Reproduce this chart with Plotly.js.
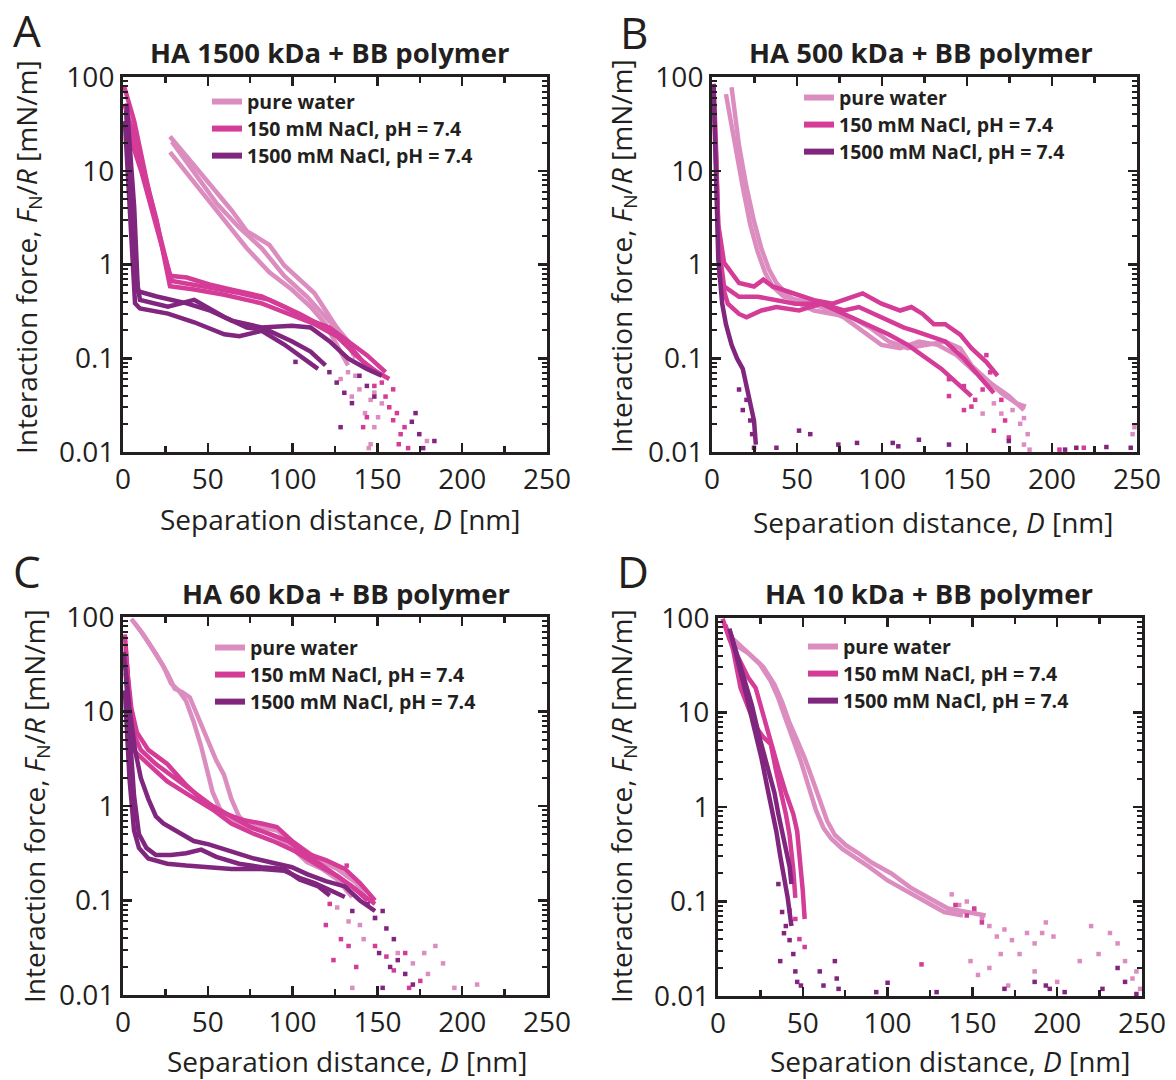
<!DOCTYPE html>
<html>
<head>
<meta charset="utf-8">
<script src="https://cdn.plot.ly/plotly-3.0.1.min.js"></script>
<style>html,body{margin:0;padding:0;background:#fff}#chart{width:1176px;height:1080px}</style>
</head>
<body>
<div id="chart"></div>
<script>
// ---------------- DATA (D in nm, F/R in mN/m) ----------------
const panelTitles = ["HA 1500 kDa + BB polymer", "HA 500 kDa + BB polymer", "HA 60 kDa + BB polymer", "HA 10 kDa + BB polymer"];
const panelLetters = ["A", "B", "C", "D"];
const seriesNames = ["pure water", "150 mM NaCl, pH = 7.4", "1500 mM NaCl, pH = 7.4"];
const xTickVals = [0, 50, 100, 150, 200, 250];
const yTickVals = [0.01, 0.1, 1, 10, 100];
const yTickText = ["0.01", "0.1", "1", "10", "100"];

// Panel A: HA 1500 kDa
const A_water_D = [
  [27.7,37.6,50.9,64.1,73,79.6,86.3,95.1,104,112.8,119.4,126,132.7,137.1],
  [28.8,42,55.3,68.6,81.8,95.1,108.4,119.4,130.5,136],
  [27.7,42,55.3,73,86.3,99.5,110.6,119.4,126,132.7]
];
const A_water_F = [
  [23.2,14.0,7.4,3.77,2.27,1.92,1.62,0.975,0.695,0.496,0.325,0.213,0.152,0.0996],
  [20.4,9.55,4.47,2.47,1.49,0.757,0.456,0.275,0.165,0.108],
  [15.8,7.4,3.77,1.49,0.824,0.54,0.354,0.232,0.14,0.084]
];
const A_water_tail_D = [128.3,132.7,134.9,139.4,142.7,146,148.2,146,150.4,152.6,179.2,144.9,137,148.2];
const A_water_tail_F = [0.06,0.071,0.039,0.0466,0.026,0.036,0.0184,0.0121,0.0235,0.033,0.0131,0.011,0.065,0.043];
const A_s150_D = [
  [0.7,6.6,15.5,27.7,37.6,50.9,64.1,81.8,95.1,110.6,121.7,132.7,143.8,154.8],
  [0.7,8.8,19.9,27.7,42,59.7,81.8,99.5,112.8,126,139.4,148.2,157],
  [1.1,11,22.1,28.8,46.5,68.6,86.3,104,117.2,130.5,141.6,152.6]
];
const A_s150_F = [
  [78.9,33.9,5.75,0.757,0.725,0.612,0.54,0.456,0.354,0.252,0.213,0.152,0.108,0.071],
  [51.8,17.3,2.93,0.587,0.54,0.475,0.385,0.286,0.232,0.172,0.0996,0.074,0.06],
  [33.9,9.55,1.76,0.667,0.587,0.496,0.419,0.299,0.222,0.158,0.0915,0.065]
];
const A_s150_tail_D = [148.2,154.8,157,159.3,161.5,163.7,166,162.6,143.8,141.6,168.1,159.3,152.6];
const A_s150_tail_F = [0.0507,0.039,0.030,0.0218,0.026,0.0155,0.0184,0.0121,0.0235,0.0184,0.011,0.0466,0.055];
const A_s1500_D = [
  [2.2,6.6,8.8,19.9,37.6,50.9,64.1,81.8,99.5,110.6,121.7,132.7,143.8,152.6],
  [1.8,7.7,10,26.5,42,59.7,73,86.3,99.5,110.6,119.4],
  [1.1,7.1,10,26.5,42,59.7,68.6,81.8,95.1,104,115]
];
const A_s1500_F = [
  [51.8,4.1,0.518,0.456,0.385,0.325,0.252,0.213,0.222,0.213,0.152,0.0996,0.077,0.065],
  [43.7,0.757,0.419,0.354,0.419,0.275,0.213,0.196,0.152,0.118,0.084],
  [33.9,0.385,0.339,0.299,0.242,0.18,0.172,0.196,0.14,0.108,0.077]
];
const A_s1500_tail_D = [121.7,126,130.5,135,139.4,143.8,128.3,148.2,172.5,174.7,177,183.6,170.3,101.7];
const A_s1500_tail_F = [0.071,0.055,0.0428,0.0332,0.065,0.0507,0.0184,0.039,0.026,0.0155,0.011,0.0131,0.021,0.0915];

// Panel B: HA 500 kDa
const B_water_D = [
  [11.5,15.9,20.3,24.7,29.1,33.5,37.9,44.5,51.2,60,71,82,93,104,115.1,126.1,137.2,146,152.6,161.4,170.2,179,184.6],
  [8.2,13.7,18.1,22.5,26.9,31.3,35.7,42.3,51.2,64.4,77.6,88.6,99.7,110.7,121.7,132.7,143.8,154.8,165.8,174.6,183.5]
];
const B_water_F = [
  [77.6,18.5,6.7,2.9,1.47,0.89,0.634,0.472,0.382,0.323,0.297,0.273,0.212,0.151,0.128,0.139,0.151,0.128,0.084,0.0598,0.0427,0.0331,0.0305],
  [65.6,17,6.7,2.66,1.36,0.817,0.583,0.453,0.416,0.352,0.273,0.195,0.139,0.128,0.151,0.139,0.108,0.0708,0.0505,0.0395,0.028]
];
const B_water_tail_D = [170.2,176.8,181.3,183.5,185.7,183.5,159.2,165.8,248.5,247.4,186.8];
const B_water_tail_F = [0.0257,0.028,0.02,0.023,0.0155,0.012,0.0257,0.033,0.0184,0.0155,0.0106];
const B_s150_D = [
  [0.9,2.6,3.7,7.1,15.9,24.7,30.2,35.7,49,60,71,82,88.6,99.7,110.7,117.3,123.9,130.5,137.2,146,152.6,161.4,168],
  [1.5,3.7,7.1,15.9,26.9,37.9,49,64.4,77.6,86.4,95.3,104,112.9,119.5,126.1,137.2,148.2,157,165.8],
  [2.2,4.4,9.3,15.9,20.3,29.1,37.9,51.2,64.4,77.6,90.9,104,115.1,126.1,135,143.8,152.6]
];
const B_s150_F = [
  [84.5,9.43,2.66,1.05,0.634,0.583,0.69,0.583,0.492,0.416,0.382,0.453,0.492,0.382,0.323,0.352,0.297,0.231,0.231,0.179,0.128,0.091,0.065],
  [50.9,1.75,0.583,0.453,0.453,0.416,0.382,0.382,0.323,0.352,0.297,0.251,0.212,0.195,0.179,0.151,0.099,0.065,0.0427],
  [21.9,0.75,0.382,0.297,0.273,0.323,0.352,0.323,0.382,0.297,0.231,0.179,0.139,0.099,0.077,0.055,0.0395]
];
const B_s150_tail_D = [139.4,148.2,152.6,161.4,163.6,159.2,165.8,170.2,172.4,154.8,148.2,139.4,174.6,204.4,218.7];
const B_s150_tail_F = [0.0598,0.0505,0.0305,0.108,0.0708,0.0464,0.0169,0.036,0.0217,0.036,0.028,0.0395,0.0143,0.0106,0.0111];
const B_s1500_D = [[0.9,2.2,3.7,6,8.2,11.5,14.8,18.1,20.3,22.5,24.7,25.8]];
const B_s1500_F = [[84.5,9.43,1.15,0.382,0.231,0.139,0.099,0.077,0.0505,0.0331,0.0217,0.012]];
const B_s1500_tail_D = [20.3,22.5,18.1,15.9,23.6,24.7,37.9,51.2,57.8,74.3,85.3,106.3,109.6,121.7,139.4,174.6,207.7,214.3,232,246.3];
const B_s1500_tail_F = [0.036,0.0217,0.028,0.0464,0.0155,0.0111,0.0111,0.0169,0.0155,0.012,0.0125,0.0125,0.0115,0.0135,0.012,0.0131,0.0106,0.0111,0.0113,0.0111];

// Panel C: HA 60 kDa
const C_water_D = [
  [4.9,10.5,17.2,23.8,28.3,32.8,37.2,41.7,46.1,49.5,52.8,57.3,63.9,72.9,81.8,90.7,99.6,108.5,117.4,126.3,135.2],
  [6.5,12.7,19.4,26.1,30.5,35,39.4,43.9,50.6,55,59.5,63.9,68.4,72.9,81.8,90.7,99.6,108.5,117.4,126.3,137.5,144.2]
];
const C_water_F = [
  [95.8,71.1,46.4,30.3,19.8,16.7,12.9,7.74,4.26,2.35,1.41,0.918,0.711,0.6,0.551,0.464,0.36,0.255,0.216,0.167,0.109],
  [88,62.5,40.8,25.5,17.4,16,14.1,9.18,4.64,3.03,2.15,1.19,0.774,0.653,0.6,0.551,0.426,0.33,0.255,0.216,0.153,0.1]
];
const C_water_tail_D = [126.3,133,139.7,148.6,135.2,177.6,184.2,188.7,195.4,208.8,170.9,179.8,162,141.9];
const C_water_tail_F = [0.0843,0.06,0.055,0.0653,0.0119,0.0278,0.033,0.0216,0.0119,0.0129,0.0216,0.0167,0.0278,0.039];
const C_s150_D = [
  [1.1,2.7,4.9,8.2,14.9,26.1,37.2,48.3,59.5,70.6,81.8,90.7,99.6,110.7,119.6,130.8,139.7,148.6],
  [1.6,4.9,10.5,19.4,30.5,41.7,52.8,63.9,75.1,86.2,97.4,108.5,117.4,126.3,135.2,144.2],
  [2,6,14.9,26.1,39.4,52.8,63.9,77.3,88.5,101.8,115.2,126.3,137.5,148.6]
];
const C_s150_F = [
  [65.3,25.5,10.9,6.0,3.92,2.78,1.67,1.09,0.843,0.711,0.653,0.6,0.426,0.303,0.267,0.216,0.153,0.1],
  [46.4,6.53,3.92,2.78,1.98,1.41,1.0,0.774,0.6,0.506,0.426,0.303,0.234,0.182,0.141,0.1],
  [35.9,3.92,2.78,1.82,1.29,0.918,0.653,0.506,0.426,0.33,0.234,0.182,0.129,0.0918]
];
const C_s150_tail_D = [121.9,119.6,128.5,124.1,133,137.5,148.6,155.3,159.7,168.7,175.3,166.4,131.9];
const C_s150_tail_F = [0.092,0.055,0.039,0.0234,0.033,0.0198,0.033,0.0255,0.0182,0.0119,0.0141,0.0278,0.234];
const C_s1500_D = [
  [0.4,3.8,7.1,10.5,14.9,19.4,23.8,30.5,41.7,50.6,63.9,77.3,90.7,99.6,108.5,119.6,130.8,139.7,148.6],
  [1.6,4.2,6.5,9.4,13.8,19.4,28.3,37.2,46.1,55,68.4,81.8,95.1,104,115.2,121.9],
  [1.1,3.8,6.5,9.4,14.9,26.1,37.2,50.6,63.9,81.8,95.1,104,113,121.9,130.8]
];
const C_s1500_F = [
  [42.6,10.9,3.92,1.98,1.19,0.774,0.653,0.551,0.426,0.392,0.33,0.278,0.245,0.225,0.19,0.16,0.141,0.1,0.0774],
  [25.5,4.64,1.29,0.506,0.36,0.303,0.303,0.316,0.345,0.29,0.245,0.225,0.216,0.167,0.141,0.113],
  [16.7,1.98,0.551,0.36,0.278,0.245,0.234,0.225,0.216,0.216,0.207,0.174,0.153,0.129,0.109]
];
const C_s1500_tail_D = [135.2,144.2,148.6,153.1,155.3,159.7,151,162,166.4,170.9,157.5,153.1];
const C_s1500_tail_F = [0.0774,0.0918,0.0653,0.0774,0.0506,0.039,0.0278,0.0234,0.0167,0.0129,0.0198,0.0119];

// Panel D: HA 10 kDa
const D_water_D = [
  [7.8,17.8,26.7,33.3,37.8,42.2,46.7,51.1,55.6,60,64.4,68.9,75.6,82.2,91.1,102.2,113.3,124.4,135.6,146.7,157.8],
  [8.9,15.6,24.4,31.1,35.6,40,44.4,48.9,53.3,57.8,62.2,66.7,73.3,80,88.9,100,111.1,122.2,133.3,144.4]
];
const D_water_F = [
  [55.1,42.6,30.3,19.8,12.9,7.74,5.06,3.3,1.98,1.19,0.711,0.506,0.392,0.33,0.255,0.198,0.141,0.109,0.0843,0.0774,0.0711],
  [60,46.4,33,21.5,14.1,8.43,5.06,3.03,1.67,0.918,0.6,0.464,0.36,0.303,0.234,0.167,0.129,0.1,0.0774,0.0711]
];
const D_water_tail_D = [137.8,142.2,146.7,151.1,155.6,160,164.4,168.9,173.3,177.8,182.2,186.7,191.1,193.3,197.8,148.9,153.3,160,166.7,171.1,186.7,200,213.3,224.4,231.1,235.6,240,244.4,248.9,246.7,220];
const D_water_tail_F = [0.119,0.0918,0.1,0.0774,0.0653,0.055,0.0426,0.0506,0.039,0.0278,0.0464,0.036,0.0464,0.06,0.0426,0.0234,0.0167,0.0198,0.0278,0.0129,0.0182,0.0141,0.0234,0.0278,0.0464,0.036,0.0234,0.0153,0.0119,0.0182,0.055];
const D_s150_D = [
  [2.7,6.7,11.1,17.8,22.2,26.7,31.1,35.6,40,44.4,46.7,47.8,48.9,50,51.1],
  [4.4,8.9,13.3,17.8,22.2,26.7,31.1,34.4,37.8,40,42.2,43.3,44.4,45.6]
];
const D_s150_F = [
  [98,60,40.8,23.4,18.2,9.18,5.06,2.55,1.41,0.843,0.551,0.36,0.216,0.129,0.0653],
  [84.3,46.4,18.2,10.9,7.11,5.5,4.64,2.35,1.29,0.843,0.506,0.36,0.216,0.109]
];
const D_s150_tail_D = [45.6,51.1,140,151.1,155.6,120,146.7,42.2,48];
const D_s150_tail_F = [0.0653,0.033,0.0918,0.0843,0.06,0.0216,0.0711,0.08,0.04];
const D_s1500_D = [
  [6.7,11.1,15.6,20,24.4,28.9,33.3,35.6,37.8,40,42.2,43.3],
  [7.8,12.2,16.7,21.1,25.6,28.9,32.2,34.4,36.7,38.9,41.1,43.3]
];
const D_s1500_F = [
  [77.4,42.6,21.5,11.9,5.5,2.78,1.41,0.843,0.551,0.36,0.234,0.153],
  [65.3,33,15.3,7.11,3.3,1.67,0.918,0.551,0.303,0.182,0.109,0.055]
];
const D_s1500_tail_D = [35.6,37.8,40,42.2,44.4,45.6,46.7,36.7,38.9,48.9,60,62.2,68.9,70,71.1,93.3,100,128.9,186.7,195.6,204.4,226.7,235.6,240,246.7,168.9,193.3];
const D_s1500_tail_F = [0.153,0.0774,0.055,0.039,0.0278,0.0182,0.0141,0.0234,0.0462,0.0129,0.0182,0.0129,0.0234,0.0153,0.0119,0.011,0.0138,0.011,0.0141,0.0119,0.011,0.0119,0.0198,0.0141,0.0105,0.0119,0.0129];

// ---------------- STYLE / LAYOUT ----------------
const W = 1176, H = 1080;
const COL = ["#dc8dc0", "#d43c97", "#80267f"];
const INK = "#231f20";
const FONT = "Open Sans, Noto Sans, sans-serif";
// plot boxes in pixels: [left, right, top, bottom]
const BOX = [[123,547,77,452],[712,1137,77,452],[123,547,617,995],[718,1142,618,996]];
const px = x => x / W;
const py = y => 1 - y / H;

const panels = [
  {water:[A_water_D,A_water_F,A_water_tail_D,A_water_tail_F], s150:[A_s150_D,A_s150_F,A_s150_tail_D,A_s150_tail_F], s1500:[A_s1500_D,A_s1500_F,A_s1500_tail_D,A_s1500_tail_F]},
  {water:[B_water_D,B_water_F,B_water_tail_D,B_water_tail_F], s150:[B_s150_D,B_s150_F,B_s150_tail_D,B_s150_tail_F], s1500:[B_s1500_D,B_s1500_F,B_s1500_tail_D,B_s1500_tail_F]},
  {water:[C_water_D,C_water_F,C_water_tail_D,C_water_tail_F], s150:[C_s150_D,C_s150_F,C_s150_tail_D,C_s150_tail_F], s1500:[C_s1500_D,C_s1500_F,C_s1500_tail_D,C_s1500_tail_F]},
  {water:[D_water_D,D_water_F,D_water_tail_D,D_water_tail_F], s150:[D_s150_D,D_s150_F,D_s150_tail_D,D_s150_tail_F], s1500:[D_s1500_D,D_s1500_F,D_s1500_tail_D,D_s1500_tail_F]}
];

const minorY = [];
[0.01,0.1,1,10].forEach(d => { for (let k = 2; k <= 9; k++) minorY.push(+(d*k).toPrecision(3)); });

const traces = [];
const layout = {
  width: W, height: H, margin: {l:0, r:0, t:0, b:0},
  paper_bgcolor: "#fff", plot_bgcolor: "#fff",
  font: {family: FONT, color: INK},
  annotations: [], showlegend: true
};

// legend placement (pixels: left, top)
const LEG = [[207,83],[799,79],[210,629],[803,628]];
const titleRight = [512, 1095, 512, 1095];
const titleY = [52, 52, 593, 593];
const letterPos = [[27,30],[634,32],[27,571],[633,571]];
const xTitlePos = [[340,519],[933,522],[347,1061],[950,1061]];
const yTitlePos = [[28,257],[622,256],[35,806],[622,806]];
const yTitleText = 'Interaction force, <i>F</i><span style="font-size:19px;baseline-shift:-25%">N</span>/<i>R</i> [mN/m]';

panels.forEach((p, i) => {
  const n = i === 0 ? "" : String(i + 1);
  const xa = "x" + n, ya = "y" + n;
  const b = BOX[i];
  layout["xaxis" + n] = {
    domain: [px(b[0]), px(b[1])], anchor: ya, range: [0, 250],
    tickmode: "array", tickvals: xTickVals, ticks: "inside", ticklen: 9, tickwidth: 2.5, tickcolor: INK,
    mirror: "ticks", showline: true, linewidth: 3, linecolor: INK, showgrid: false, zeroline: false,
    tickfont: {family: FONT, size: 28, color: INK},
    minor: {tickvals: [25,75,125,175,225], ticks: "inside", ticklen: 6, tickwidth: 2.5, tickcolor: INK, showgrid: false},
    fixedrange: true, automargin: false
  };
  layout["yaxis" + n] = {
    domain: [py(b[3]), py(b[2])], anchor: xa, type: "log", range: [-2, 2],
    tickmode: "array", tickvals: yTickVals, ticktext: yTickText, ticks: "inside", ticklen: 9, tickwidth: 2.5, tickcolor: INK,
    mirror: "ticks", showline: true, linewidth: 3, linecolor: INK, showgrid: false, zeroline: false,
    tickfont: {family: FONT, size: 28, color: INK},
    minor: {tickvals: minorY, ticks: "inside", ticklen: 5, tickwidth: 2, tickcolor: INK, showgrid: false},
    fixedrange: true, automargin: false
  };
  const legKey = "legend" + n;
  layout[legKey] = {
    x: px(LEG[i][0]), y: py(LEG[i][1]), xanchor: "left", yanchor: "top",
    bgcolor: "rgba(0,0,0,0)", borderwidth: 0, itemwidth: 30, tracegroupgap: 0,
    font: {family: FONT, size: 18.5, color: INK, weight: "bold"}, itemclick: false, itemdoubleclick: false
  };

  const groups = [p.water, p.s150, p.s1500];
  groups.forEach((g, gi) => {
    const [Ds, Fs, tD, tF] = g;
    Ds.forEach((d, k) => traces.push({
      type: "scatter", mode: "lines", x: d, y: Fs[k], xaxis: xa, yaxis: ya,
      line: {color: COL[gi], width: 4.5}, showlegend: false, hoverinfo: "skip"
    }));
    traces.push({
      type: "scatter", mode: "markers", x: tD, y: tF, xaxis: xa, yaxis: ya,
      marker: {color: COL[gi], size: 4.5, symbol: "square"}, showlegend: false, hoverinfo: "skip", cliponaxis: true
    });
  });
  // legend entries
  seriesNames.forEach((nm, gi) => traces.push({
    type: "scatter", mode: "lines", x: [null], y: [null], xaxis: xa, yaxis: ya,
    name: '<span style="font-size:19.5px">' + nm + '</span>',
    line: {color: COL[gi], width: 6}, legend: legKey, showlegend: true
  }));

  // panel title, letter, axis titles
  layout.annotations.push({xref: "paper", yref: "paper", x: px(titleRight[i]), y: py(titleY[i]), xanchor: "right", yanchor: "middle",
    text: "<b>" + panelTitles[i] + "</b>", showarrow: false, font: {family: FONT, size: 27.5, color: INK}});
  layout.annotations.push({xref: "paper", yref: "paper", x: px(letterPos[i][0]), y: py(letterPos[i][1]), xanchor: "center", yanchor: "middle",
    text: panelLetters[i], showarrow: false, font: {family: FONT, size: 44, color: INK}});
  layout.annotations.push({xref: "paper", yref: "paper", x: px(xTitlePos[i][0]), y: py(xTitlePos[i][1]), xanchor: "center", yanchor: "middle",
    text: "Separation distance, <i>D</i> [nm]", showarrow: false, font: {family: FONT, size: 28, color: INK}});
  layout.annotations.push({xref: "paper", yref: "paper", x: px(yTitlePos[i][0]), y: py(yTitlePos[i][1]), xanchor: "center", yanchor: "middle",
    textangle: -90, text: yTitleText, showarrow: false, font: {family: FONT, size: 28, color: INK}});
});

Plotly.newPlot("chart", traces, layout, {staticPlot: true, displayModeBar: false});
</script>
</body>
</html>
